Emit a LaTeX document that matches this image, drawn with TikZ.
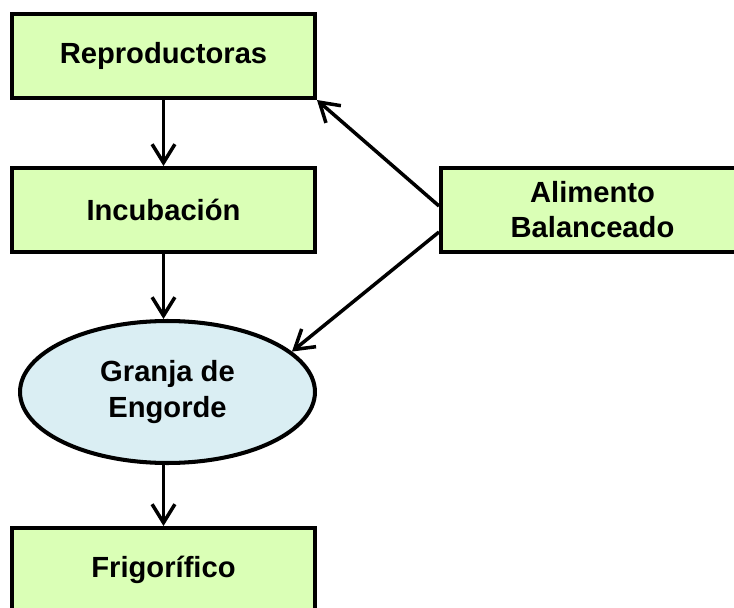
\documentclass[tikz,border=0pt]{standalone}
\usepackage{fontspec}
\setmainfont{Liberation Sans}
\usetikzlibrary{arrows.meta,shapes.geometric}
\definecolor{boxgreen}{RGB}{218,255,182}
\definecolor{ovalblue}{RGB}{218,238,243}
\begin{document}
\begin{tikzpicture}[x=0.02cm,y=-0.02cm,
  box/.style={draw,fill=boxgreen,line width=2.3pt,minimum width=6.06cm,minimum height=1.68cm,align=center,font=\bfseries\fontsize{16.6}{20}\selectfont},
  oval/.style={ellipse,draw,fill=ovalblue,line width=2.3pt,minimum width=5.9cm,minimum height=2.84cm,inner sep=0pt,align=center,font=\bfseries\fontsize{16.6}{20}\selectfont},
  flow/.style={line width=2pt,-{Straight Barb[length=10.5pt,width=13pt]}}]
\clip (0,0) rectangle (734,608);

\node[box] (repro) at (163.5,56) {Reproductoras};
\node[box] (incub) at (163.5,210) {Incubación};
\node[box] (alim) at (592.5,210) {Alimento\\Balanceado};
\node[oval] (granja) at (167.5,392) {Granja de\\Engorde};
\node[box] (frigo) at (163.5,570) {Frigorífico};

\draw[flow] (repro) -- (incub);
\draw[flow] (incub.south) -- (incub.south |- granja.north);
\draw[flow] (frigo.north |- granja.south) -- (frigo.north);

\coordinate (a1) at ([yshift=0.08cm]alim.west);
\coordinate (a2) at ([yshift=-0.44cm]alim.west);
\draw[flow] (a1) -- (repro.south east);
\draw[flow] (a2) -- (granja.18);

\end{tikzpicture}
\end{document}
